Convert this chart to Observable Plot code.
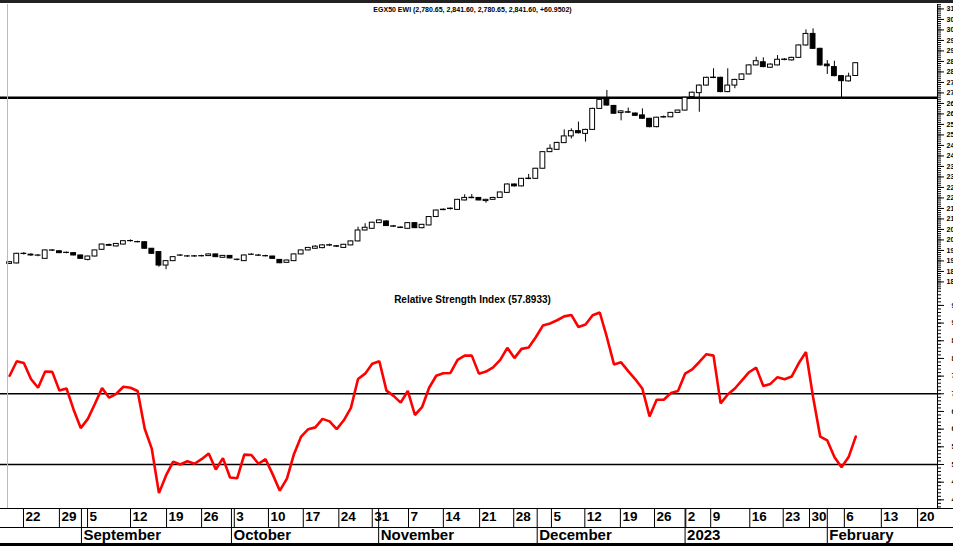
<!DOCTYPE html>
<html><head><meta charset="utf-8">
<script src="https://cdn.jsdelivr.net/npm/d3@7"></script>
<script src="https://cdn.jsdelivr.net/npm/@observablehq/plot@0.6"></script>
<style>
html,body{margin:0;padding:0;background:#fff;overflow:hidden}
#wrap{position:relative;width:953px;height:546px;overflow:hidden;font-family:"Liberation Sans",Arial,sans-serif;background:#fff}
#wrap svg{position:absolute;left:0}
</style></head><body><div id="wrap"></div>
<script>
// ---------- data ----------
const open  = [1886,1888,1933,1930,1925,1910,1950,1946,1938,1937,1926,1905,1921,1953,1972,1969,1978,1994,1990,1989,1958,1942,1878,1899,1925,1921,1922,1922,1923,1931,1915,1924,1905,1899,1929,1926,1923,1921,1905,1891,1899,1931,1950,1958,
  1961,1973,1970,1962,1974,1993,2045,2053,2080,2088,2063,2059,2053,2080,2056,2069,2109,2142,2147,2143,2188,2199,2200,2185,2191,2200,2224,2264,2255,2290,2291,2339,2418,2429,2461,2493,2518,2505,2524,2624,
  2667,2638,2604,2608,2602,2593,2577,2537,2583,2584,2605,2616,2680,2699,2735,2771,2772,2704,2735,2762,2788,2831,2846,2820,2831,2857,2855,2867,2926,2981,2910,2835,2823,2780,2755,2780.65];
const high  = [1896,1936,1940,1934,1930,1952,1954,1948,1942,1939,1927,1923,1951,1980,1980,1983,1996,2000,1994,1991,1959,1944,1901,1920,1930,1926,1926,1927,1933,1932,1926,1925,1909,1928,1934,1930,1927,1922,1906,1904,1933,1952,1964,1972,
  1977,1980,1973,1979,1995,2061,2077,2084,2096,2091,2069,2062,2082,2082,2074,2111,2142,2148,2152,2193,2215,2216,2202,2193,2203,2228,2267,2266,2293,2312,2341,2420,2453,2465,2524,2529,2561,2527,2627,2670,
  2712,2641,2615,2628,2604,2624,2579,2584,2590,2607,2618,2679,2704,2738,2775,2815,2775,2815,2765,2791,2834,2870,2867,2838,2878,2863,2870,2929,3000,3005,2913,2854,2851,2782,2794,2841.6];
const low   = [1884,1886,1928,1922,1920,1908,1946,1935,1934,1924,1908,1900,1919,1951,1969,1967,1976,1990,1986,1956,1931,1870,1858,1897,1921,1917,1918,1919,1921,1916,1913,1910,1900,1897,1926,1922,1919,1908,1887,1889,1897,1929,1948,1956,
  1958,1969,1964,1960,1972,1991,2043,2051,2078,2064,2060,2054,2051,2054,2053,2067,2107,2139,2143,2141,2186,2196,2186,2175,2189,2198,2222,2252,2253,2287,2289,2337,2416,2427,2459,2481,2505,2466,2521,2621,
  2637,2598,2567,2603,2588,2574,2534,2534,2580,2582,2603,2614,2678,2608,2733,2768,2701,2701,2720,2760,2786,2829,2820,2818,2829,2853,2852,2864,2923,2907,2828,2788,2777,2677,2752,2780.65];
const close = [1894,1934,1934,1926,1926,1950,1949,1937,1939,1926,1910,1921,1950,1978,1976,1981,1994,1995,1989,1958,1934,1878,1899,1918,1926,1922,1921,1923,1931,1918,1924,1912,1906,1926,1930,1925,1922,1910,1889,1902,1931,1950,1962,1968,
  1974,1975,1968,1977,1993,2045,2058,2082,2093,2066,2065,2057,2080,2056,2072,2109,2140,2144,2149,2191,2200,2201,2188,2191,2200,2226,2264,2255,2291,2292,2339,2418,2434,2462,2493,2518,2508,2524,2624,2667,
  2640,2601,2612,2606,2591,2577,2537,2582,2585,2605,2616,2677,2701,2735,2772,2773,2704,2735,2762,2788,2831,2851,2823,2835,2858,2859,2867,2926,2981,2910,2831,2827,2780,2756,2778,2841.6];
const rsi = [75.1,79.2,78.7,74.2,71.7,76.3,76.2,70.9,71.5,65.5,60.3,62.9,67.2,71.6,68.9,70.0,72.0,71.7,70.8,60.1,54.4,41.9,46.9,50.8,50.0,50.9,50.2,51.5,53.1,48.6,51.8,46.3,46.1,52.8,52.7,50.2,51.5,47.2,42.6,46.0,53.0,57.9,60.0,60.5,
  62.9,62.2,60.0,62.5,66.0,74.2,75.7,78.5,79.2,70.9,69.4,67.5,70.8,64.0,66.2,71.7,75.1,75.8,75.9,79.6,80.8,80.8,75.7,76.3,77.5,79.6,83.0,80.1,82.7,83.1,86.0,89.3,89.9,90.8,91.9,92.3,88.9,89.6,92.2,93.0,
  86.0,78.3,78.9,76.4,74.1,71.4,63.6,68.3,68.3,70.2,70.8,75.7,76.9,79.0,81.2,80.8,67.3,69.8,71.5,73.8,76.1,77.4,72.2,72.8,74.7,74.1,74.9,78.7,81.8,69.1,57.9,56.8,52.1,49.2,52.1,57.8933];
// x axis: day ticks (position in trading-day index) and month separators
const dayTickPos   = [1.95,7.0,10.96,17.0,22.07,27.0,31.6,36.4,41.3,46.3,51.0,56.1,61.0,66.1,70.9,76.2,80.9,85.9,90.7,95.1,98.6,104.1,108.8,112.5,117.4,122.6,127.7];
const dayTickLabel = ["22","29","5","12","19","26","3","10","17","24","31","7","14","21","28","5","12","19","26","2","9","16","23","30","6","13","20"];
const monthPos   = [10.1,31.2,51.9,74.2,95.0,115.0];
const monthLabel = ["September","October","November","December","2023","February"];
const supportLevel = [2677];
const rsiLevels = [70, 50];
const priceTitle = "EGX50 EWI (2,780.65, 2,841.60, 2,780.65, 2,841.60, +60.9502)";
const rsiTitle = "Relative Strength Index (57.8933)";
const priceMajor = d3.range(1750, 3101, 50);
const priceMinor = d3.range(1760, 3121, 10);
const rsiMajor = d3.range(40, 96, 5);
const rsiMinor = d3.range(38, 100, 1);

// ---------- build ----------
const candles = open.map((o, i) => ({i, o, h: high[i], l: low[i], c: close[i]}));
const series = rsi.map((v, i) => ({i, v}));
const days = dayTickPos.map((p, k) => ({p, t: dayTickLabel[k]}));
const months = monthPos.map((p, k) => ({p, t: monthLabel[k]}));
const xDomain = [-0.3, 130.5];
const font = "Liberation Sans, Arial, sans-serif";
const wrap = document.getElementById("wrap");
function place(svg, top) { svg.style.top = top + "px"; wrap.appendChild(svg); }

const price = Plot.plot({
  width: 953, height: 290, marginTop: 4, marginBottom: 0, marginLeft: 7, marginRight: 16,
  style: {fontFamily: font, background: "transparent", color: "#000"},
  x: {domain: xDomain, axis: null},
  y: {domain: [1759.2, 3121.1], axis: null},
  marks: [
    Plot.ruleY(supportLevel, {stroke: "#000", strokeWidth: 2.4, insetLeft: -7}),
    Plot.ruleX(candles, {x: "i", y1: "l", y2: "h", stroke: "#000", strokeWidth: 1}),
    Plot.rect(candles, {x1: d => d.i - 0.34, x2: d => d.i + 0.34, y1: "o", y2: "c",
      fill: d => d.c >= d.o ? "#fff" : "#000", stroke: "#000", strokeWidth: 1}),
    Plot.ruleX([xDomain[0]], {stroke: "#bbb"}),
    Plot.ruleX([xDomain[1]], {stroke: "#000"}),
    Plot.axisY(priceMajor, {anchor: "right", tickSize: 6, tickPadding: 3, fontSize: 7, fontWeight: "bold", label: null, tickFormat: d3.format("d")}),
    Plot.axisY(priceMinor, {anchor: "right", tickSize: 3, tickFormat: () => "", label: null}),
    Plot.text([priceTitle], {frameAnchor: "top", dy: 3, fontSize: 7, fontWeight: "bold"})
  ]
});
place(price, 0);

const rsiChart = Plot.plot({
  width: 953, height: 218, marginTop: 0, marginBottom: 0, marginLeft: 7, marginRight: 16,
  style: {fontFamily: font, background: "transparent", color: "#000"},
  x: {domain: xDomain, axis: null},
  y: {domain: [37.55, 99.22], axis: null},
  marks: [
    Plot.ruleY(rsiLevels, {stroke: "#000", strokeWidth: 1.5, insetLeft: -7}),
    Plot.line(series, {x: "i", y: "v", stroke: "#ff0000", strokeWidth: 2.6, strokeLinejoin: "miter"}),
    Plot.ruleX([xDomain[0]], {stroke: "#bbb"}),
    Plot.ruleX([xDomain[1]], {stroke: "#000"}),
    Plot.axisY(rsiMajor, {anchor: "right", tickSize: 6, tickPadding: 8, fontSize: 7, fontWeight: "bold", label: null}),
    Plot.axisY(rsiMinor, {anchor: "right", tickSize: 3, tickFormat: () => "", label: null}),
    Plot.text([rsiTitle], {frameAnchor: "top", dy: 5, fontSize: 10, fontWeight: "bold"})
  ]
});
place(rsiChart, 290);

const axis = Plot.plot({
  width: 953, height: 35, marginTop: 0, marginBottom: 0, marginLeft: 7, marginRight: 16,
  style: {fontFamily: font, background: "transparent", color: "#000", overflow: "visible"},
  x: {domain: xDomain, axis: null},
  marks: [
    Plot.ruleX(days, {x: "p", insetBottom: 16, stroke: "#000"}),
    Plot.ruleX(months, {x: "p", stroke: "#000"}),
    Plot.text(days, {x: "p", text: "t", frameAnchor: "top", dy: 3, dx: 2, textAnchor: "start", fontSize: 13.5, fontWeight: "bold"}),
    Plot.text(months, {x: "p", text: "t", frameAnchor: "bottom", dy: -4, dx: 2, textAnchor: "start", fontSize: 15, fontWeight: "bold"})
  ]
});
place(axis, 508);

// row separators and frame bands
const line = (top, h, c) => { const d = document.createElement("div"); d.style.cssText = `position:absolute;left:0;width:953px;top:${top}px;height:${h}px;background:${c}`; wrap.appendChild(d); };
line(0, 3, "#222");
line(508, 1, "#000");
line(527, 1, "#000");
line(543, 3, "#000");
</script></body></html>
